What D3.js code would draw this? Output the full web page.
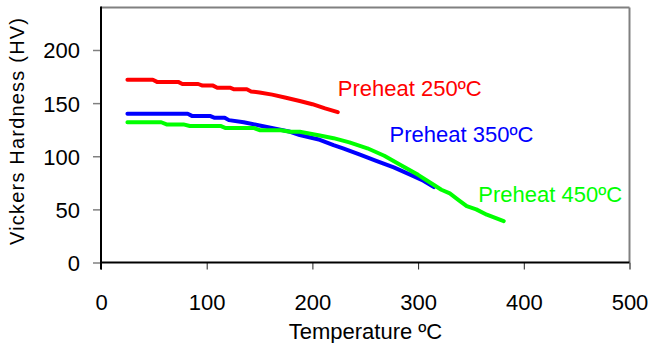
<!DOCTYPE html>
<html>
<head>
<meta charset="utf-8">
<script src="https://cdnjs.cloudflare.com/ajax/libs/d3/7.8.5/d3.min.js"></script>
<style>
  body { margin: 0; background: #fff; }
  svg text { font-family: "Liberation Sans", Arial, sans-serif; }
</style>
</head>
<body>
<div id="chart"></div>
<script>
var svgWidth = 654;
var svgHeight = 343;

var margin = { top: 7.5, right: 24.5, bottom: 80.5, left: 101 };
var width = svgWidth - margin.left - margin.right;
var height = svgHeight - margin.top - margin.bottom;

// hardness readings, [temperature degC, HV]
var preheat250 = [
  [25, 172], [49, 172], [53, 170], [73, 170], [77, 168], [92, 168],
  [96, 166.5], [106, 166.5], [110, 164.5], [122, 164.5], [126, 163],
  [138, 163], [142, 161], [150, 160], [162, 158], [175, 155],
  [188, 152], [200, 149], [212, 145], [224, 141.5]
];
var preheat350 = [
  [25, 140], [82, 140], [86, 138], [103, 138], [107, 136.3], [117, 136.3],
  [121, 134], [135, 132], [150, 129], [165, 126], [179, 123], [188, 120],
  [207, 115.5], [220, 110.5], [229, 107.5], [245, 101.5], [261, 95.5],
  [277, 89.5], [293, 82.5], [305, 77], [315, 71]
];
var preheat450 = [
  [25, 132], [57, 132], [62, 130], [78, 130], [84, 128.5], [113, 128.5],
  [118, 126.5], [145, 126.5], [150, 124.5], [170, 124.5], [179, 123],
  [188, 123], [207, 119.5], [220, 117], [235, 113], [252, 107.5],
  [268, 100.5], [283, 92], [300, 82.5], [315, 73], [322, 68.5], [330, 65],
  [338, 59], [346, 53], [355, 50], [365, 45], [373, 42], [381, 39]
];

var xTicks = [0, 100, 200, 300, 400, 500];
var yTicks = [0, 50, 100, 150, 200];

var seriesNames = ["Preheat 250ºC", "Preheat 350ºC", "Preheat 450ºC"];
var seriesColors = ["#ff0000", "#0000ff", "#00ff00"];
var seriesData = [preheat250, preheat350, preheat450];
// where each series name sits: [temperature, HV] of the text baseline start
var labelAt = [[224, 157], [273, 113], [357, 56.5]];

var svg = d3.select("#chart")
  .append("svg")
  .attr("width", svgWidth)
  .attr("height", svgHeight);

var chartGroup = svg.append("g")
  .attr("transform", `translate(${margin.left}, ${margin.top})`);

var xScale = d3.scaleLinear().domain([0, 500]).range([0, width]);
var yScale = d3.scaleLinear().domain([0, 240]).range([height, 0]);

// y axis ticks and labels
var leftAxis = d3.axisLeft(yScale)
  .tickValues(yTicks)
  .tickSize(8)
  .tickPadding(13);
var yAxisG = chartGroup.append("g").call(leftAxis);
yAxisG.select(".domain").remove();
yAxisG.selectAll(".tick line").attr("stroke", "#808080").attr("stroke-width", 1.5);
yAxisG.selectAll(".tick text")
  .style("font-size", "22px")
  .attr("dy", "0.36em")
  .attr("fill", "#000");

// x axis ticks and labels
var bottomAxis = d3.axisBottom(xScale)
  .tickValues(xTicks)
  .tickSize(7);
var xAxisG = chartGroup.append("g")
  .attr("transform", `translate(0, ${height})`)
  .call(bottomAxis);
xAxisG.select(".domain").remove();
xAxisG.selectAll(".tick line").attr("stroke", "#222");
xAxisG.selectAll(".tick line").filter(d => d === 500).attr("stroke", "#808080").attr("stroke-width", 2);
xAxisG.selectAll(".tick text")
  .style("font-size", "22px")
  .attr("y", 47.5)
  .attr("dy", 0)
  .attr("fill", "#000");

// frame: grey top and right, black axes
chartGroup.append("line")
  .attr("x1", 0).attr("x2", width).attr("y1", 0).attr("y2", 0)
  .attr("stroke", "#808080").attr("stroke-width", 2);
chartGroup.append("line")
  .attr("x1", width).attr("x2", width).attr("y1", 0).attr("y2", height)
  .attr("stroke", "#808080").attr("stroke-width", 2);
chartGroup.append("line")
  .attr("x1", 0).attr("x2", width).attr("y1", height).attr("y2", height)
  .attr("stroke", "#000").attr("stroke-width", 2);
chartGroup.append("line")
  .attr("x1", 0).attr("x2", 0).attr("y1", -1).attr("y2", height + 7)
  .attr("stroke", "#000").attr("stroke-width", 2);

// curves
var line = d3.line()
  .x(d => xScale(d[0]))
  .y(d => yScale(d[1]));

seriesData.forEach(function(data, i) {
  chartGroup.append("path")
    .datum(data)
    .attr("fill", "none")
    .attr("stroke", seriesColors[i])
    .attr("stroke-width", 4)
    .attr("stroke-linejoin", "round")
    .attr("stroke-linecap", "round")
    .attr("d", line);

  chartGroup.append("text")
    .attr("x", xScale(labelAt[i][0]))
    .attr("y", yScale(labelAt[i][1]))
    .style("font-size", "22px")
    .style("fill", seriesColors[i])
    .text(seriesNames[i]);
});

// axis titles
svg.append("text")
  .attr("transform", "translate(24, 131.5) rotate(-90)")
  .style("text-anchor", "middle")
  .style("font-size", "20px")
  .attr("textLength", 227)
  .attr("lengthAdjust", "spacing")
  .text("Vickers Hardness (HV)");

svg.append("text")
  .attr("x", 365.5)
  .attr("y", 339)
  .style("text-anchor", "middle")
  .style("font-size", "22px")
  .text("Temperature ºC");
</script>
</body>
</html>
